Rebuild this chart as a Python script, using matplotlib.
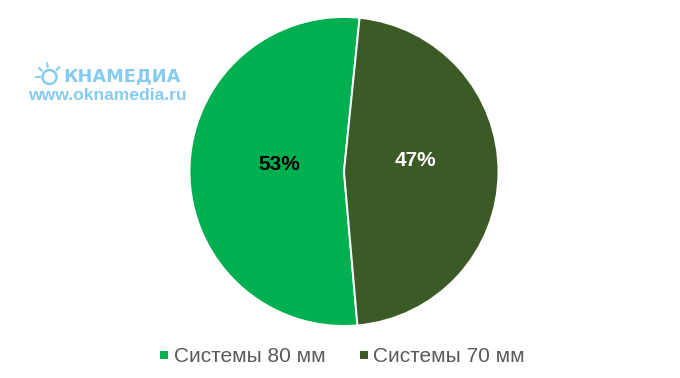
import matplotlib
matplotlib.use('Agg')
import numpy as np
import matplotlib.pyplot as plt
from matplotlib.patches import Rectangle, Circle

categories = ['Системы 80 мм', 'Системы 70 мм']
values = [53, 47]
pct_labels = ['53%', '47%']
colors = ['#00B050', '#3B5A25']
label_colors = ['black', 'white']
logo_color = '#86CBF1'

plt.rcParams['font.family'] = ['Liberation Sans', 'DejaVu Sans']
W, H = 680, 378
fig = plt.figure(figsize=(W/100, H/100), dpi=100, facecolor='white')
ax = fig.add_axes([0, 0, 1, 1])

ax.pie(values, colors=colors, startangle=85, counterclock=True,
       center=(344, 171.5), radius=154.5, frame=True,
       wedgeprops=dict(edgecolor='white', linewidth=1.4))
ax.set_xlim(0, W)
ax.set_ylim(H, 0)
ax.set_aspect('equal')
ax.axis('off')

for (x, y), s, c in zip([(279.5, 164), (415, 161)], pct_labels, label_colors):
    ax.text(x, y, s, color=c, fontsize=15, fontweight='bold', ha='center', va='center')

for x, c in zip([160, 360], colors):
    ax.add_patch(Rectangle((x, 350.5), 8, 8, color=c, lw=0))
for x, name in zip([174, 373], categories):
    ax.text(x, 356, name, color='#595959', fontsize=15, ha='left', va='center')

# logo: sun icon plus wordmark
ax.add_patch(Circle((49.5, 77), 7, fill=False, ec=logo_color, lw=1.8))
for a in [100, 140, 180, 45]:
    t = np.deg2rad(a)
    ax.plot([49.5 + 10*np.cos(t), 49.5 + 14*np.cos(t)],
            [77 - 10*np.sin(t), 77 - 14*np.sin(t)],
            color=logo_color, lw=1.5, solid_capstyle='round')
ax.text(63, 76.5, 'КНАМЕДИА', color=logo_color, fontsize=12.8, fontweight='bold',
        family='DejaVu Sans', ha='left', va='center')
ax.text(107.5, 96, 'www.oknamedia.ru', color=logo_color, fontsize=12.6,
        fontweight='bold', ha='center', va='center')

fig.savefig('out.png', dpi=100)
